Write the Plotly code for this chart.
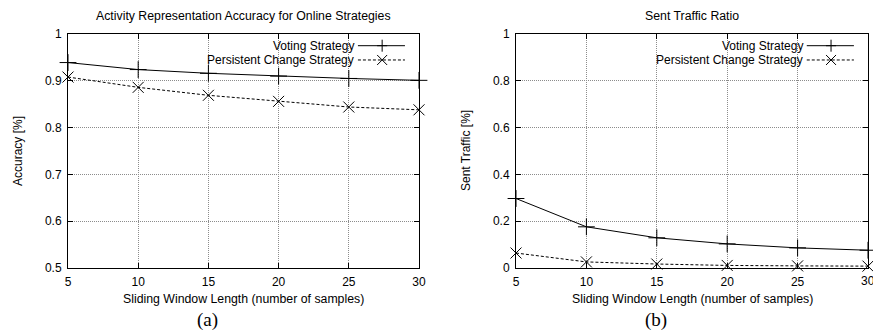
import plotly.graph_objects as go

# ---- data ----
window = [5, 10, 15, 20, 25, 30]
acc_voting = [0.939, 0.924, 0.916, 0.910, 0.905, 0.901]
acc_persistent = [0.908, 0.886, 0.869, 0.856, 0.844, 0.838]
traffic_voting = [0.297, 0.176, 0.129, 0.103, 0.086, 0.076]
traffic_persistent = [0.064, 0.026, 0.017, 0.011, 0.009, 0.008]
series_names = ["Voting Strategy", "Persistent Change Strategy"]
titles = ["Activity Representation Accuracy for Online Strategies", "Sent Traffic Ratio"]
xlabel = "Sliding Window Length (number of samples)"
ylabels = ["Accuracy [%]", "Sent Traffic [%]"]
sublabels = ["(a)", "(b)"]
acc_ticks = [0.5, 0.6, 0.7, 0.8, 0.9, 1]
acc_ticktext = ["0.5", "0.6", "0.7", "0.8", "0.9", "1"]
traffic_ticks = [0, 0.2, 0.4, 0.6, 0.8, 1]
traffic_ticktext = ["0", "0.2", "0.4", "0.6", "0.8", "1"]

W, H = 873, 331
FONT = "Liberation Sans, Arial, sans-serif"

fig = go.Figure()

styles = [
    dict(line=dict(color="black", width=1), marker=dict(symbol="cross-thin-open", size=12,
                                                       line=dict(color="black", width=1))),
    dict(line=dict(color="black", width=1, dash="3px,2px"),
         marker=dict(symbol="x-thin-open", size=11, line=dict(color="black", width=1))),
]

panels = [
    ("x", "y", [acc_voting, acc_persistent]),
    ("x2", "y2", [traffic_voting, traffic_persistent]),
]
for xa, ya, series in panels:
    for name, vals, st in zip(series_names, series, styles):
        fig.add_trace(go.Scatter(x=window, y=vals, mode="lines+markers", name=name,
                                 xaxis=xa, yaxis=ya, showlegend=False, cliponaxis=False, **st))

def px_x(p):
    return p / W

def px_y(p):
    return 1 - p / H

xdom1 = [px_x(68), px_x(419)]
xdom2 = [px_x(516), px_x(868)]
ydom = [px_y(268), px_y(34)]

axis_common = dict(
    showline=True, linecolor="black", linewidth=1, mirror="ticks",
    ticks="inside", ticklen=5, tickcolor="black", automargin=False,
    showgrid=True, gridcolor="#8c8c8c", griddash="1px,1px", gridwidth=1,
    zeroline=False, tickfont=dict(family=FONT, size=12, color="black"),
)
xaxis_common = dict(axis_common, ticklabelstandoff=3)
yaxis_common = dict(axis_common, ticklabelstandoff=3)

fig.update_layout(
    template="none",
    width=W, height=H,
    margin=dict(l=0, r=0, t=0, b=0, autoexpand=False),
    paper_bgcolor="white", plot_bgcolor="white",
    font=dict(family=FONT, color="black"),
    xaxis=dict(domain=xdom1, anchor="y", range=[5, 30], tickvals=window, **xaxis_common),
    yaxis=dict(domain=ydom, anchor="x", range=[0.5, 1], tickvals=acc_ticks,
               ticktext=acc_ticktext, **yaxis_common),
    xaxis2=dict(domain=xdom2, anchor="y2", range=[5, 30], tickvals=window, **xaxis_common),
    yaxis2=dict(domain=ydom, anchor="x2", range=[0, 1], tickvals=traffic_ticks,
                ticktext=traffic_ticktext, **yaxis_common),
)

ann = []
shapes = []
C = dict(xanchor="center", yanchor="middle", showarrow=False)
for i, (xd, xa, ya) in enumerate([(xdom1, "x", "y"), (xdom2, "x2", "y2")]):
    cx = (xd[0] + xd[1]) / 2
    ann.append(dict(text=titles[i], x=cx, y=px_y(16), xref="paper", yref="paper",
                    font=dict(size=12.3, family=FONT), **C))
    ann.append(dict(text=xlabel, x=cx, y=px_y(299), xref="paper", yref="paper",
                    font=dict(size=12.3, family=FONT), **C))
    ylab_x = [18, 466][i]
    ann.append(dict(text=ylabels[i], x=px_x(ylab_x), y=(ydom[0] + ydom[1]) / 2,
                    xref="paper", yref="paper", textangle=-90,
                    font=dict(size=12, family=FONT), **C))
    sub_x = [207, 656][i]
    ann.append(dict(text=sublabels[i], x=px_x(sub_x), y=px_y(320), xref="paper", yref="paper",
                    font=dict(size=19, family="Liberation Serif, Times New Roman, serif"), **C))
    # legend
    xr, yr = xa + " domain", ya + " domain"
    for j, (name, ly) in enumerate(zip(series_names, [0.95, 0.889])):
        ann.append(dict(text=name, x=0.82, y=ly, xref=xr, yref=yr, xanchor="right",
                        yanchor="middle", showarrow=False, font=dict(size=12, family=FONT)))
        dash = "solid" if j == 0 else "3px,2px"
        shapes.append(dict(type="line", x0=0.826, x1=0.96, y0=ly, y1=ly, xref=xr, yref=yr,
                           line=dict(color="black", width=1, dash=dash)))
        path = "M-5,0 L5,0 M0,-6 L0,6" if j == 0 else "M-5,-5 L5,5 M-5,5 L5,-5"
        shapes.append(dict(type="path", path=path, xref=xr, yref=yr, xsizemode="pixel",
                           ysizemode="pixel", xanchor=0.895, yanchor=ly,
                           line=dict(color="black", width=1)))

# last tick label of the right panel runs past the page edge (clipped, as in the original)
ann.append(dict(text=str(window[-1]), x=window[-1], xref="x2", y=px_y(281), yref="paper",
                font=dict(size=12, family=FONT), **C))

fig.update_layout(annotations=ann, shapes=shapes)
fig.write_html("out.html")
